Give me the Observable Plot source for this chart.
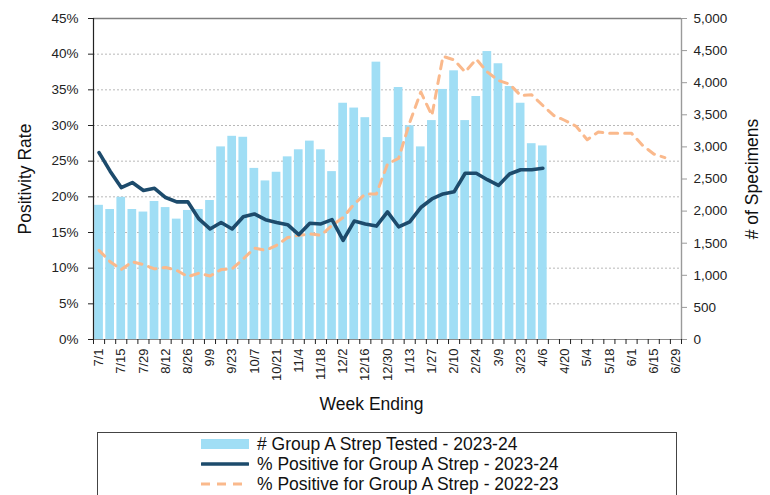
<!DOCTYPE html>
<html>
<head>
<meta charset="utf-8">
<script src="https://cdn.jsdelivr.net/npm/d3@7"></script>
<script src="https://cdn.jsdelivr.net/npm/@observablehq/plot@0.6"></script>
<style>
  body { margin: 0; background: #fff; font-family: "Liberation Sans", Arial, sans-serif; }
  #wrap { position: relative; width: 770px; height: 495px; overflow: hidden; }
  #legend { position: absolute; left: 97px; top: 432px; width: 580px; height: 80px;
            border: 1px solid #444; box-sizing: border-box; font-size: 17.5px; color: #111; }
  .item { position: absolute; left: 103px; height: 20px; display: flex; align-items: center; }
  .item svg { margin-right: 8px; }
</style>
</head>
<body>
<div id="wrap">
  <div id="chart"></div>
  <div id="legend"></div>
</div>
<script>
// ---- data ----
const weeks = ["7/1","7/8","7/15","7/22","7/29","8/5","8/12","8/19","8/26","9/2","9/9","9/16","9/23","9/30",
  "10/7","10/14","10/21","10/28","11/4","11/11","11/18","11/25","12/2","12/9","12/16","12/23","12/30",
  "1/6","1/13","1/20","1/27","2/3","2/10","2/17","2/24","3/2","3/9","3/16","3/23","3/30","4/6","4/13",
  "4/20","4/27","5/4","5/11","5/18","5/25","6/1","6/8","6/15","6/22","6/29"];

// # Group A Strep Tested - 2023-24 (right axis)
const tested2324 = [2090,2025,2215,2025,1985,2150,2055,1875,2010,2025,2165,3000,3165,3150,2665,2470,
  2605,2845,2955,3090,2955,2615,3680,3605,3455,4320,3145,3925,3330,3000,3410,3895,4185,3410,3785,
  4485,4295,3940,3680,3050,3015];

// % Positive for Group A Strep - 2023-24 (left axis)
const pos2324 = [26.2,23.6,21.3,22.0,20.9,21.2,19.9,19.3,19.3,16.9,15.5,16.4,15.5,17.2,17.6,16.8,
  16.4,16.1,14.7,16.3,16.2,16.8,13.9,16.6,16.2,15.9,17.9,15.8,16.5,18.5,19.7,20.4,20.7,23.3,23.3,
  22.4,21.6,23.2,23.8,23.8,24.0];

// % Positive for Group A Strep - 2022-23 (left axis)
const pos2223 = [12.5,10.9,9.8,10.9,10.5,9.9,10.1,9.7,8.8,9.3,8.9,9.8,9.9,11.3,12.8,12.5,13.2,14.3,
  14.6,14.8,14.6,16.0,17.1,19.0,20.4,20.4,24.6,25.4,30.4,34.7,31.4,39.7,39.2,37.5,39.3,37.5,36.3,
  35.8,34.2,34.3,32.8,31.4,30.7,29.9,28.0,29.1,28.9,28.9,28.9,27.2,26.0,25.5];

const pctTicks = [0,5,10,15,20,25,30,35,40,45];
const specTicks = [0,500,1000,1500,2000,2500,3000,3500,4000,4500,5000];

const labels = {
  bars: "# Group A Strep Tested - 2023-24",
  cur: "% Positive for Group A Strep - 2023-24",
  prev: "% Positive for Group A Strep - 2022-23"
};

// colours
const barColor = "#a0def5";
const curColor = "#1d4b6c";
const prevColor = "#fab98c";

// right axis maps specimens onto the percentage scale
const pctMax = 45, specMax = 5000;
const toPct = v => v * pctMax / specMax;

const chart = Plot.plot({
  width: 770,
  height: 428,
  marginLeft: 93,
  marginRight: 89,
  marginTop: 18,
  marginBottom: 89,
  x: { type: "linear", domain: [0, weeks.length] },
  y: { domain: [0, pctMax] },
  style: { fontFamily: "Liberation Sans, Arial, sans-serif", fontSize: "13px", color: "#222", background: "#fff" },
  marks: [
    Plot.ruleY(pctTicks.filter(t => t > 0 && t < pctMax), { stroke: "#b8b8b8", strokeDasharray: "2,2" }),
    Plot.rectY(tested2324, {
      x1: (d, i) => i, x2: (d, i) => i + 1, y1: 0, y2: d => toPct(d),
      fill: barColor, insetLeft: 1.2, insetRight: 1.2
    }),
    Plot.line(pos2223, { x: (d, i) => i + 0.5, y: d => d, stroke: prevColor, strokeWidth: 3,
      strokeDasharray: "8,7", strokeLinejoin: "round" }),
    Plot.line(pos2324, { x: (d, i) => i + 0.5, y: d => d, stroke: curColor, strokeWidth: 3.6,
      strokeLinejoin: "round", strokeLinecap: "round" }),
    // frame
    Plot.ruleY([pctMax], { stroke: "#808080", strokeWidth: 1.4 }),
    Plot.ruleY([0], { stroke: "#8a8a8a", strokeWidth: 1.2 }),
    Plot.ruleX([0], { stroke: "#222", strokeWidth: 1.2 }),
    Plot.ruleX([weeks.length], { stroke: "#9a9a9a", strokeWidth: 1.4 }),
    // left axis
    Plot.axisY({ ticks: pctTicks, tickFormat: d => d + "%", tickSize: 5, tickPadding: 10,
      fontSize: 13.5, label: null, stroke: "#222" }),
    // right axis
    Plot.axisY({ anchor: "right", ticks: specTicks.map(toPct),
      tickFormat: v => d3.format(",")(Math.round(v * specMax / pctMax)),
      tickSize: 5, tickPadding: 7, fontSize: 13.5, label: null, stroke: "#9a9a9a" }),
    // x tick marks between categories
    Plot.axisX({ ticks: d3.range(0, weeks.length + 1), tickFormat: () => "", tickSize: 5,
      label: null, stroke: "#222" }),
    // x labels every other week
    Plot.axisX({ ticks: d3.range(0, weeks.length, 2).map(i => i + 0.5),
      tickFormat: v => weeks[Math.floor(v)], tickSize: 0, tickPadding: 9, tickRotate: -90,
      fontSize: 13, label: null }),
    // axis titles
    Plot.text(["Positivity Rate"], { frameAnchor: "left", textAnchor: "middle", rotate: -90, dx: -68,
      fontSize: 17.5, fill: "#111" }),
    Plot.text(["# of Specimens"], { frameAnchor: "right", textAnchor: "middle", rotate: -90, dx: 71,
      fontSize: 17.5, fill: "#111" }),
    Plot.text(["Week Ending"], { frameAnchor: "bottom", dy: 70, dx: -16, fontSize: 17.5, fill: "#111" })
  ]
});
document.getElementById("chart").appendChild(chart);

// legend
const legend = document.getElementById("legend");
const items = [
  { key: "bars", top: 1, swatch: `<rect x="0" y="5" width="48" height="10" fill="${barColor}"/>` },
  { key: "cur", top: 21, swatch: `<line x1="1" y1="10" x2="47" y2="10" stroke="${curColor}" stroke-width="3.6" stroke-linecap="round"/>` },
  { key: "prev", top: 41, swatch: `<line x1="0" y1="10" x2="48" y2="10" stroke="${prevColor}" stroke-width="3" stroke-dasharray="9,7"/>` }
];
for (const it of items) {
  const div = document.createElement("div");
  div.className = "item";
  div.style.top = it.top + "px";
  div.innerHTML = `<svg width="48" height="20">${it.swatch}</svg><span>${labels[it.key]}</span>`;
  legend.appendChild(div);
}
</script>
</body>
</html>
